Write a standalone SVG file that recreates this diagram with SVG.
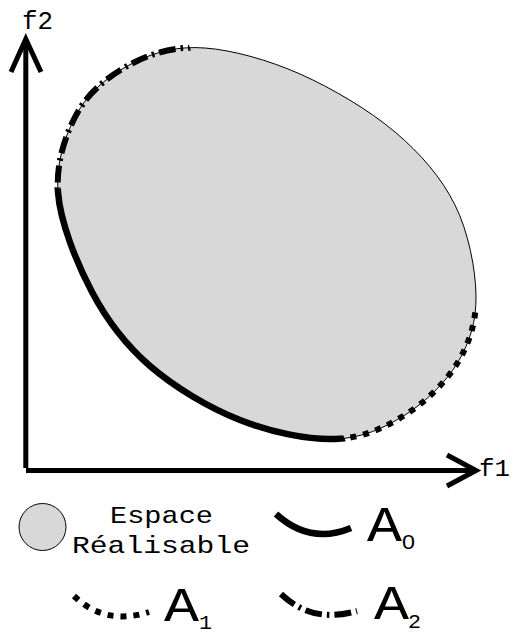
<svg xmlns="http://www.w3.org/2000/svg" width="513" height="633" viewBox="0 0 513 633">
<style>
.axis{fill:none;stroke:#000;stroke-width:5;stroke-linejoin:miter;stroke-linecap:butt}
.space{fill:#d8d8d8;stroke:#000;stroke-width:1}
.a0{fill:none;stroke:#000;stroke-width:6.5}
.a1{fill:none;stroke:#000;stroke-width:6;stroke-dasharray:6 7}
.a2{fill:none;stroke:#000;stroke-width:6;stroke-dasharray:17 5 2.5 5}
.lbl{font-family:"Liberation Mono","DejaVu Sans Mono",monospace;fill:#000}
.sub0{font-family:"Liberation Sans","DejaVu Sans",sans-serif;fill:#000}
</style>
<defs>
  <path id="outline" d="M205,48 C232.5,50 268.33,60 300,74 C331.67,88 369.17,110.17 395,132 C420.83,153.83 441.5,177.83 455,205 C468.5,232.17 475.5,268.83 476,295 C476.5,321.17 469.83,342 458,362 C446.17,382 425.5,402.17 405,415 C384.5,427.83 362.5,438.17 335,439 C307.5,439.83 270.83,432.17 240,420 C209.17,407.83 174.67,387.33 150,366 C125.33,344.67 107.33,321 92,292 C76.67,263 60.17,222.33 58,192 C55.83,161.67 66.17,131.67 79,110 C91.83,88.33 114,72.33 135,62 C156,51.67 177.5,46 205,48 Z"/>
  <clipPath id="clipA0"><polygon points="266,244 -150,132 -150,640 426,640"/></clipPath>
  <clipPath id="clipA1"><polygon points="266,244 426,640 900,640 896,448"/></clipPath>
  <clipPath id="clipA2"><polygon points="266,244 -150,132 -150,-148 114,-148"/></clipPath>
</defs>
<rect width="513" height="633" fill="#fff"/>
<g id="axes">
  <path class="axis" d="M25.8,468 V42"/>
  <path class="axis" d="M26,470.5 H474"/>
  <polyline class="axis" points="11,72 25.8,39 41,72"/>
  <polyline class="axis" points="447,455 476,470.5 447,486"/>
  <text class="lbl" x="22" y="29" font-size="26" textLength="31" lengthAdjust="spacingAndGlyphs">f2</text>
  <text class="lbl" x="479" y="476" font-size="23" textLength="31" lengthAdjust="spacingAndGlyphs">f1</text>
</g>
<g id="espace-realisable">
  <use href="#outline" class="space"/>
</g>
<g id="connectors">
  <use id="A0-front" href="#outline" class="a0" clip-path="url(#clipA0)"/>
  <use id="A1-front" href="#outline" class="a1" clip-path="url(#clipA1)"/>
  <use id="A2-front" href="#outline" class="a2" clip-path="url(#clipA2)"/>
</g>
<g id="legend-espace">
  <circle class="space" cx="42.5" cy="527" r="23.5"/>
  <text class="lbl" x="110" y="523" font-size="24" textLength="103" lengthAdjust="spacingAndGlyphs">Espace</text>
  <text class="lbl" x="72" y="553" font-size="24" textLength="178" lengthAdjust="spacingAndGlyphs">Réalisable</text>
</g>
<g id="legend-A0">
  <path class="a0" d="M276,514 Q310,545 351,528"/>
  <text class="lbl" x="367" y="541" font-size="50" textLength="35" lengthAdjust="spacingAndGlyphs">A</text>
  <text class="sub0" x="402" y="549" font-size="20" textLength="13" lengthAdjust="spacingAndGlyphs">0</text>
</g>
<g id="legend-A1">
  <path class="a1" d="M74,596 Q105,626 149,612"/>
  <text class="lbl" x="164" y="621" font-size="49" textLength="35" lengthAdjust="spacingAndGlyphs">A</text>
  <text class="lbl" x="199" y="629" font-size="21" textLength="13" lengthAdjust="spacingAndGlyphs">1</text>
</g>
<g id="legend-A2">
  <path class="a2" d="M281,594 Q312,624 357,611"/>
  <text class="lbl" x="374" y="619" font-size="49" textLength="35" lengthAdjust="spacingAndGlyphs">A</text>
  <text class="lbl" x="408" y="628" font-size="21" textLength="13" lengthAdjust="spacingAndGlyphs">2</text>
</g>
</svg>
